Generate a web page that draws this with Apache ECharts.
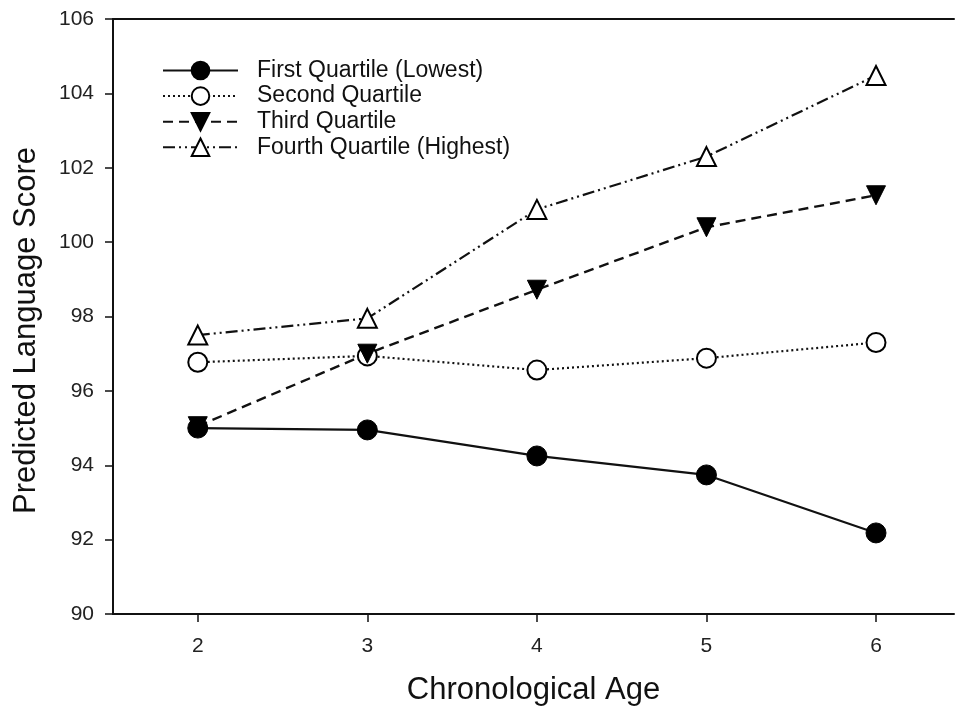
<!DOCTYPE html>
<html><head><meta charset="utf-8">
<script src="https://cdn.jsdelivr.net/npm/echarts@6/dist/echarts.min.js"></script>
<style>html,body{margin:0;padding:0;background:#fff}#c{width:955px;height:711px}</style>
</head><body><div id="c"></div>
<script>
const ages = [2, 3, 4, 5, 6];
const yTicks = [90, 92, 94, 96, 98, 100, 102, 104, 106];
const seriesNames = ['First Quartile (Lowest)', 'Second Quartile', 'Third Quartile', 'Fourth Quartile (Highest)'];
const firstQ = [95.0, 94.95, 94.25, 93.74, 92.18];
const secondQ = [96.77, 96.94, 96.56, 96.88, 97.3];
const thirdQ = [95.05, 97.0, 98.72, 100.4, 101.26];
const fourthQ = [97.5, 97.95, 100.88, 102.3, 104.48];

const font = 'Liberation Sans, Arial, Helvetica, sans-serif';
const pair = arr => ages.map((a, i) => [a, arr[i]]);

const chart = echarts.init(document.getElementById('c'), null, {renderer: 'canvas'});
chart.setOption({
  animation: false,
  backgroundColor: '#fff',
  grid: {left: 113, right: 1, top: 19, bottom: 97},
  legend: {
    left: 162, top: 59, orient: 'vertical', padding: 0,
    itemWidth: 75, itemHeight: 22, itemGap: 2.6,
    textStyle: {fontFamily: font, fontSize: 23, lineHeight: 22, color: '#111', padding: [0, 0, 0, 14]},
    data: seriesNames
  },
  xAxis: [{
    type: 'value', min: 1.5, max: 6.46,
    axisLine: {lineStyle: {color: '#111', width: 2}},
    axisTick: {show: true, length: 8, lineStyle: {color: '#111', width: 1.5}, customValues: ages},
    axisLabel: {fontFamily: font, fontSize: 21, color: '#222', margin: 22, customValues: ages},
    splitLine: {show: false},
    name: 'Chronological Age', nameLocation: 'middle', nameGap: 61,
    nameTextStyle: {fontFamily: font, fontSize: 31, color: '#111'}
  }, {
    type: 'value', min: 1.5, max: 6.46, position: 'top',
    axisLine: {show: true, lineStyle: {color: '#111', width: 2}},
    axisTick: {show: false}, axisLabel: {show: false}, splitLine: {show: false}
  }],
  yAxis: {
    type: 'value', min: yTicks[0], max: yTicks[yTicks.length - 1], interval: 2,
    axisLine: {show: true, lineStyle: {color: '#111', width: 2}},
    axisTick: {show: true, length: 8, lineStyle: {color: '#111', width: 1.5}},
    axisLabel: {fontFamily: font, fontSize: 21, color: '#222', margin: 19},
    splitLine: {show: false},
    name: 'Predicted Language Score', nameLocation: 'middle', nameGap: 71,
    nameTextStyle: {fontFamily: font, fontSize: 31, color: '#111', padding: [0, 28, 0, 0]}
  },
  series: [
    {name: seriesNames[0], type: 'line', data: pair(firstQ), symbol: 'circle', symbolSize: 20,
     itemStyle: {color: '#000', borderColor: '#000', borderWidth: 1},
     lineStyle: {color: '#111', width: 2.2, type: 'solid'}},
    {name: seriesNames[1], type: 'line', data: pair(secondQ), symbol: 'circle', symbolSize: 19,
     itemStyle: {color: '#fff', borderColor: '#000', borderWidth: 2},
     lineStyle: {color: '#111', width: 2.2, type: [2, 3]}},
    {name: seriesNames[2], type: 'line', data: pair(thirdQ), symbol: 'triangle', symbolSize: 19, symbolRotate: 180,
     itemStyle: {color: '#000', borderColor: '#000', borderWidth: 1},
     lineStyle: {color: '#111', width: 2.4, type: [10, 6]}},
    {name: seriesNames[3], type: 'line', data: pair(fourthQ), symbol: 'triangle', symbolSize: 19,
     itemStyle: {color: '#fff', borderColor: '#000', borderWidth: 2},
     lineStyle: {color: '#111', width: 2.2, type: [12, 4, 2, 4, 2, 4]}}
  ]
});
</script></body></html>
